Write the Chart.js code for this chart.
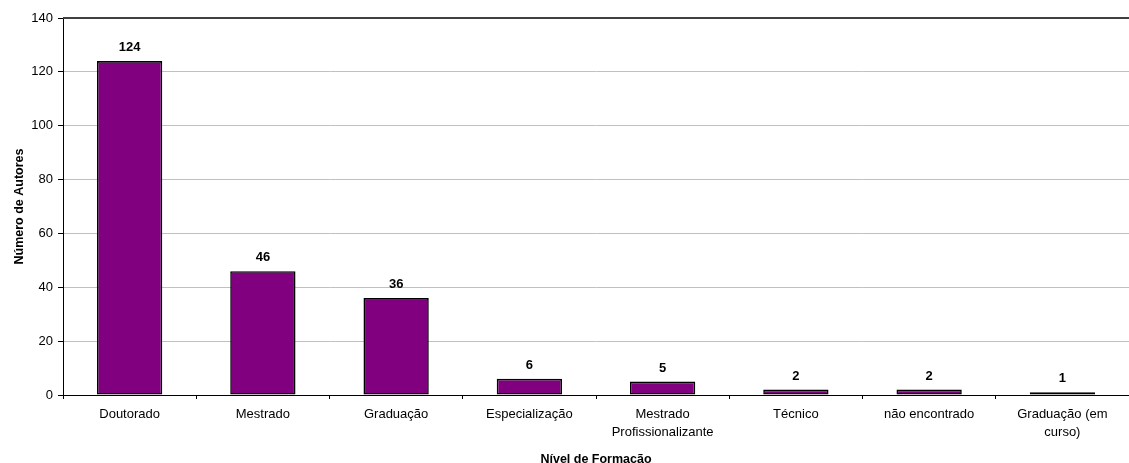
<!DOCTYPE html>
<html>
<head>
<meta charset="utf-8">
<script src="https://cdn.jsdelivr.net/npm/chart.js@4.4.1/dist/chart.umd.min.js"></script>
<style>
  html, body { margin: 0; padding: 0; background: #fff; }
  #wrap { width: 1129px; height: 463px; }
</style>
</head>
<body>
<div id="wrap"><canvas id="chart" width="1129" height="463"></canvas></div>
<script>
const categories = [
  'Doutorado',
  'Mestrado',
  'Graduação',
  'Especialização',
  ['Mestrado', 'Profissionalizante'],
  'Técnico',
  'não encontrado',
  ['Graduação (em', 'curso)']
];
const authorCounts = [124, 46, 36, 6, 5, 2, 2, 1];
const yTicks = [0, 20, 40, 60, 80, 100, 120, 140];

const FONT = '"Liberation Sans", Arial, sans-serif';

// value labels above bars + dark top border of plot area
const extras = {
  id: 'extras',
  afterDatasetsDraw(chart) {
    const ctx = chart.ctx;
    const area = chart.chartArea;
    ctx.save();
    ctx.strokeStyle = '#404040';
    ctx.lineWidth = 2;
    ctx.beginPath();
    ctx.moveTo(area.left, area.top);
    ctx.lineTo(area.right, area.top);
    ctx.stroke();

    ctx.fillStyle = '#000';
    ctx.font = 'bold 13px ' + FONT;
    ctx.textAlign = 'center';
    ctx.textBaseline = 'bottom';
    chart.getDatasetMeta(0).data.forEach((bar, i) => {
      ctx.fillText(String(authorCounts[i]), bar.x, bar.y - 7);
    });
    ctx.restore();
  }
};

new Chart(document.getElementById('chart'), {
  type: 'bar',
  data: {
    labels: categories,
    datasets: [{
      data: authorCounts,
      backgroundColor: '#800080',
      borderColor: '#000',
      borderWidth: 1.6,
      borderSkipped: false,
      categoryPercentage: 1,
      barPercentage: 0.49
    }]
  },
  options: {
    responsive: false,
    animation: false,
    layout: { padding: { top: 18, right: 0, left: 0, bottom: 0 } },
    plugins: { legend: { display: false }, tooltip: { enabled: false } },
    scales: {
      x: {
        grid: { offset: true, drawOnChartArea: false, tickLength: 4, color: '#000' },
        border: { color: '#000', width: 1 },
        ticks: {
          color: '#000',
          maxRotation: 0,
          autoSkip: false,
          padding: 6,
          font: { family: FONT, size: 13, lineHeight: 1.4 }
        },
        title: {
          display: true,
          text: 'Nível de Formação',
          color: '#000',
          font: { family: FONT, size: 12.5, weight: 'bold' },
          padding: { top: 9, bottom: -4 }
        },
        afterFit(scale) { scale.height = 68; }
      },
      y: {
        min: 0,
        max: 140,
        afterBuildTicks(scale) { scale.ticks = yTicks.map(v => ({ value: v })); },
        grid: {
          color: (c) => c.tick && c.tick.value === 0 ? '#000' : '#c0c0c0',
          tickColor: '#000',
          tickLength: 5
        },
        border: { color: '#000', width: 1 },
        ticks: {
          color: '#000',
          padding: 5,
          font: { family: FONT, size: 13 }
        },
        title: {
          display: true,
          text: 'Número de Autores',
          color: '#000',
          font: { family: FONT, size: 12.5, weight: 'bold' },
          padding: { top: 12, bottom: 8 }
        },
        afterFit(scale) { scale.width = 63; }
      }
    }
  },
  plugins: [extras]
});
</script>
</body>
</html>
